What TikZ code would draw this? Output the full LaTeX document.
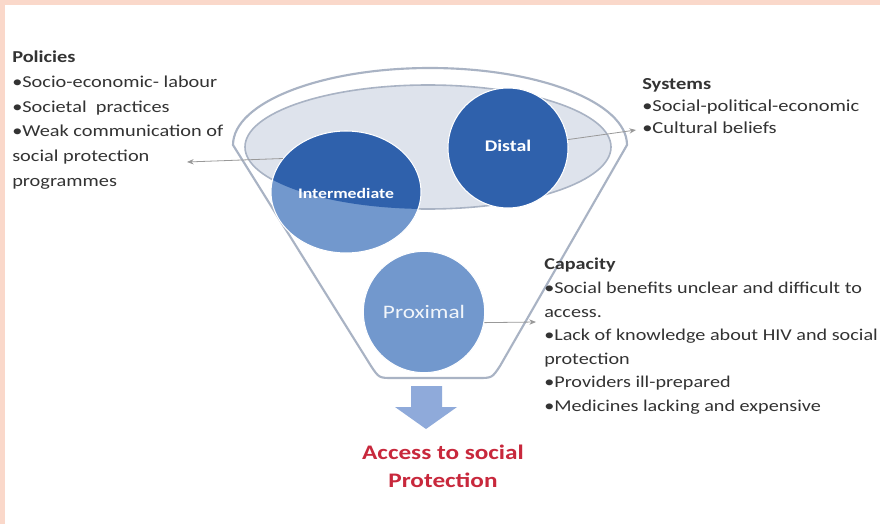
\documentclass[tikz,border=0pt]{standalone}
\usepackage{fontspec}
\setmainfont{Carlito}
\newfontfamily\widefont[FakeStretch=1.22]{Carlito}
\usetikzlibrary{arrows.meta,shapes.geometric}
\definecolor{pinkband}{HTML}{FAD8CA}
\definecolor{darkblue}{HTML}{2F61AC}
\definecolor{midblue}{HTML}{7298CD}
\definecolor{arrowblue}{HTML}{8FAADA}
\definecolor{innerfill}{HTML}{DEE3EC}
\definecolor{outline}{HTML}{A9B3C4}
\definecolor{txt}{HTML}{333333}
\definecolor{accred}{HTML}{C8283C}
\tikzset{
  funnelline/.style={draw=outline, line width=1.6pt, fill=white},
  blob/.style={draw=white, line width=0.8pt},
  conn/.style={draw=gray!80, line width=0.6pt, -{Stealth[length=5pt,width=4pt]}},
  bodytext/.style={anchor=north west, inner sep=0pt, align=left, text=txt},
  circlabel/.style={text=white, inner sep=0pt},
}
\begin{document}
\begin{tikzpicture}[x=0.75pt,y=-0.75pt]
\useasboundingbox (0,0) rectangle (880,524);
\fill[white] (0,0) rectangle (880,524);
\fill[pinkband] (0,0) rectangle (880,5);
\fill[pinkband] (0,0) rectangle (5,524);

% funnel outline
\draw[funnelline] (233,145) arc[start angle=180, end angle=360, x radius=197, y radius=77]
  -- (500,366) .. controls (492,378) .. (478,378) -- (393,378) .. controls (379,378) .. (371,366) -- cycle;
% inner ellipse (mouth)
\draw[draw=outline, line width=1.2pt, fill=innerfill] (428,147) ellipse [x radius=183, y radius=62];

% intermediate
\fill[midblue] (346,192) ellipse [x radius=75, y radius=61];
\begin{scope}
  \clip (428,147) ellipse [x radius=183, y radius=62];
  \fill[darkblue] (346,192) ellipse [x radius=75, y radius=61];
\end{scope}
\draw[blob] (346,192) ellipse [x radius=75, y radius=61];
\node[ellipse, minimum width=112.5pt, minimum height=91.5pt, inner sep=0pt] (intermediate) at (346,192) {};
\node[circlabel, font=\widefont\bfseries\fontsize{10.9}{12}\selectfont] (intlabel) at (346,193) {Intermediate};

% distal
\node[circle, fill=darkblue, blob, minimum size=90pt, inner sep=0pt] (distal) at (508,148) {};
\node[circlabel, font=\widefont\bfseries\fontsize{12.2}{13}\selectfont] (distlabel) at (508,146) {Distal};

% proximal
\node[circle, fill=midblue, blob, minimum size=91pt, inner sep=0pt] (proximal) at (424,312) {};
\node[circlabel, text=white!90!midblue, font=\widefont\fontsize{14.3}{16}\selectfont] (proxlabel) at (424,312) {Proximal};

% down arrow
\fill[arrowblue] (411,386) -- (442,386) -- (442,407) -- (457,407) -- (426,429) -- (395,407) -- (411,407) -- cycle;

% connectors
\coordinate (polend) at (187,162);
\coordinate (sysend) at (636,130);
\coordinate (capend) at (536,322);
\draw[conn] (intermediate.152) -- (polend);
\draw[conn] (distal.8) -- (sysend);
\draw[conn] (proximal.-10) -- (capend);

% texts
\node[bodytext, font=\widefont\fontsize{12.5}{18.5}\selectfont] (policies) at (12,51)
 {\textbf{Policies}\\
  •Socio-economic- labour\\
  •Societal~ practices\\
  •Weak communication of\\
  social protection\\
  programmes};
\node[bodytext, font=\widefont\fontsize{12.6}{16.5}\selectfont] (systems) at (642,78)
 {\textbf{Systems}\\
  •Social-political-economic\\
  •Cultural beliefs};
\node[bodytext, font=\widefont\fontsize{12.4}{17.7}\selectfont] (capacity) at (544,258)
 {\textbf{Capacity}\\
  •Social benefits unclear and difficult to\\
  access.\\
  •Lack of knowledge about HIV and social\\
  protection\\
  •Providers ill-prepared\\
  •Medicines lacking and expensive};
\node[text=accred, align=center, inner sep=0pt, font=\widefont\bfseries\fontsize{15.5}{21}\selectfont] (access) at (443,466)
 {Access to social\\Protection};
\end{tikzpicture}
\end{document}
